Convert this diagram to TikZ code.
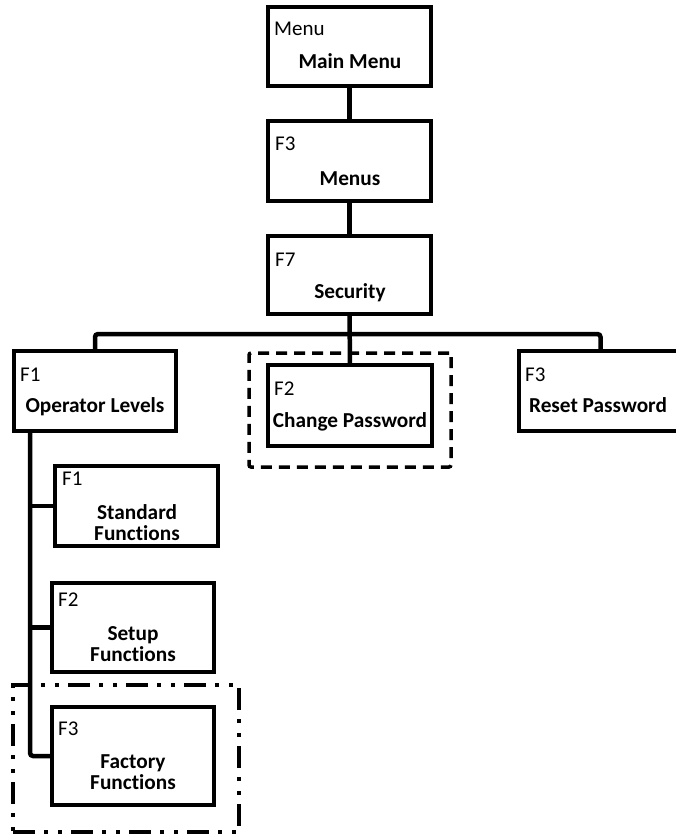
\documentclass[tikz,border=0pt]{standalone}
\usepackage{fontspec}
\setmainfont[Ligatures={NoCommon}]{Carlito}
\begin{document}
\begin{tikzpicture}[x=1pt,y=-1pt,
  box/.style={draw, line width=4.5pt, rectangle, inner sep=0pt, outer sep=0pt, anchor=north west},
  lbl/.style={anchor=base west, inner sep=0pt, font=\fontsize{21}{22}\selectfont},
  ttl/.style={anchor=base, inner sep=0pt, font=\bfseries\fontsize{21.3}{22}\selectfont},
  ttltwo/.style={anchor=north, inner sep=0pt, align=center, font=\bfseries\fontsize{21.3}{21.5}\selectfont},
  conn/.style={line width=4.5pt},
  grpdash/.style={draw, line width=3.5pt, dash pattern=on 11pt off 7pt, rounded corners=2pt, rectangle, inner sep=0pt, outer sep=0pt, anchor=north west},
  grpdot/.style={draw, line width=3.5pt, dash pattern=on 22pt off 9pt on 4pt off 10pt on 4pt off 9pt, rectangle, inner sep=0pt, outer sep=0pt, anchor=north west}]
\useasboundingbox (0,0) rectangle (676,836);
\clip (0,0) rectangle (676,836);

% group outlines
\node[grpdash, minimum width=202pt, minimum height=114pt] (cpgrp) at (249,353) {};
\node[grpdot, minimum width=226pt, minimum height=147pt] (facgrp) at (13,685) {};

% boxes
\node[box, minimum width=163pt, minimum height=79pt] (main) at (268,7) {};
\node[box, minimum width=163pt, minimum height=80pt] (menus) at (268,121) {};
\node[box, minimum width=163pt, minimum height=78pt] (sec) at (268,236) {};
\node[box, minimum width=162pt, minimum height=80pt] (op) at (14,351) {};
\node[box, minimum width=164pt, minimum height=81pt] (cp) at (268,365) {};
\node[box, minimum width=163pt, minimum height=80pt] (rp) at (519,351) {};
\node[box, minimum width=163pt, minimum height=80pt] (std) at (55,466) {};
\node[box, minimum width=162pt, minimum height=89pt] (setup) at (52,583) {};
\node[box, minimum width=162pt, minimum height=98pt] (fac) at (52,707) {};

% key labels
\node[lbl] (mainK) at (274,35) {Menu};
\node[lbl] (menusK) at (275,150) {F3};
\node[lbl] (secK) at (275,266) {F7};
\node[lbl] (opK) at (20,381) {F1};
\node[lbl] (cpK) at (274,395) {F2};
\node[lbl] (rpK) at (525,381) {F3};
\node[lbl] (stdK) at (62,485) {F1};
\node[lbl] (setupK) at (58,606) {F2};
\node[lbl] (facK) at (58,735) {F3};

% titles
\node[ttl] (mainT) at (350,68) {Main Menu};
\node[ttl] (menusT) at (350,185) {Menus};
\node[ttl] (secT) at (350,298) {Security};
\node[ttl] (opT) at (95,412) {Operator Levels};
\node[ttl] (cpT) at (350,427) {Change Password};
\node[ttl] (rpT) at (598,412) {Reset Password};
\node[ttltwo] (stdT) at (137,504) {Standard\\Functions};
\node[ttltwo] (setupT) at (133,626) {Setup\\Functions};
\node[ttltwo] (facT) at (133,754) {Factory\\Functions};

% connectors
\coordinate (bus) at (350,334);
\coordinate (lvtop) at (30,431);
\draw[conn] (main.south) -- (menus.north);
\draw[conn] (menus.south) -- (sec.north);
\draw[conn] (sec.south) -- (cp.north);
\draw[conn, rounded corners=3pt] (op.north) |- (bus) -| (rp.north);
\draw[conn, rounded corners=3pt] (lvtop) |- (fac.west);
\draw[conn] (std.west) -- (std.west -| lvtop);
\draw[conn] (setup.west) -- (setup.west -| lvtop);
\end{tikzpicture}
\end{document}
